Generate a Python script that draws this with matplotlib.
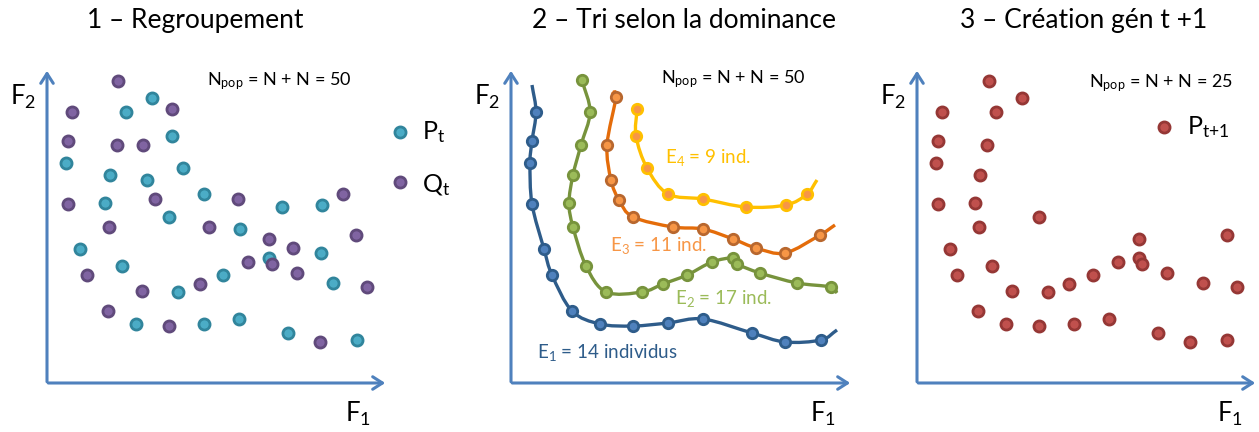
import numpy as np
import matplotlib
matplotlib.use("Agg")
import matplotlib.pyplot as plt
from matplotlib.path import Path
from matplotlib.patches import PathPatch

plt.rcParams['font.family'] = ['Lato', 'DejaVu Sans']
plt.rcParams['mathtext.fontset'] = 'custom'
plt.rcParams['mathtext.rm'] = 'Lato'
plt.rcParams['mathtext.it'] = 'Lato'

# population P_t and offspring Q_t (F1, F2)
pt_f1 = [105, 79, 125, 19, 63, 100, 136, 58, 157, 122, 193, 235, 275, 33, 75, 131, 176, 222, 274, 286, 89, 157, 192, 241, 310]
pt_f2 = [285, 271, 247, 220, 208, 203, 215, 180, 189, 166, 154, 176, 178, 134, 117, 91, 108, 125, 130, 100, 59, 59, 64, 50, 43]
qt_f1 = [71, 25, 125, 21, 70, 96, 21, 108, 62, 162, 191, 296, 222, 246, 201, 225, 250, 309, 320, 40, 95, 153, 61, 122, 273]
qt_f2 = [302, 271, 274, 242, 238, 238, 179, 184, 156, 156, 184, 189, 144, 135, 121, 119, 110, 148, 96, 108, 92, 99, 72, 57, 41]

# fronts (points, then line ends)
e1_f1 = [25, 21, 19, 21, 33, 41, 61, 89, 122, 157, 192, 241, 274, 310]
e1_f2 = [271, 242, 220, 179, 134, 108, 72, 59, 57, 60, 64, 50, 41, 43]
e2_f1 = [71, 79, 70, 62, 58, 62, 75, 95, 131, 152, 176, 201, 222, 226, 249, 286, 320]
e2_f2 = [303, 271, 238, 208, 180, 156, 117, 91, 91, 99, 108, 121, 125, 119, 110, 100, 96]
e3_f1 = [105, 96, 100, 108, 122, 162, 192, 222, 245, 274, 309]
e3_f2 = [286, 238, 203, 183, 166, 156, 154, 144, 135, 130, 148]
e4_f1 = [126, 125, 136, 157, 192, 235, 275, 296]
e4_f2 = [274, 247, 215, 189, 184, 176, 178, 189]
front_start = [(21, 298), None, (101, 291), None]
front_end = [(326, 53), (326, 90), (324, 158), (306, 203)]

# generation t+1
pn_f1 = [72, 105, 25, 79, 21, 70, 19, 63, 21, 58, 122, 62, 33, 40, 75, 95, 131, 152, 176, 201,
         222, 222, 225, 250, 286, 320, 310, 61, 89, 122, 157, 192, 241, 273, 310]
pn_f2 = [302, 285, 271, 271, 242, 238, 220, 208, 179, 180, 166, 156, 134, 108, 117, 92, 91, 99, 108, 121,
         144, 125, 119, 110, 100, 96, 148, 72, 59, 57, 59, 64, 50, 41, 43]

titles = ["1 – Regroupement", "2 – Tri selon la dominance", "3 – Création gén t +1"]

W, H = 1259, 432
fig = plt.figure(figsize=(W / 100, H / 100), dpi=100)

axis_col = "#4F81BD"


def make_ax(x0, y0, w, h):
    ax = fig.add_axes([x0 / W, (H - y0) / H, w / W, h / H])
    ax.set_xlim(0, w)
    ax.set_ylim(0, h)
    ax.axis("off")
    ax.annotate("", xy=(w, 0), xytext=(-1.5, 0),
                arrowprops=dict(arrowstyle="->,head_length=0.7,head_width=0.45", color=axis_col, lw=2.2))
    ax.annotate("", xy=(0, h), xytext=(0, -1.5),
                arrowprops=dict(arrowstyle="->,head_length=0.7,head_width=0.45", color=axis_col, lw=2.2))
    return ax


def smooth(ax, xs, ys, color, start=None, end=None):
    pts = list(zip(xs, ys))
    if start:
        pts = [start] + pts
    if end:
        pts = pts + [end]
    pts = np.array(pts, float)
    ext = np.vstack([2 * pts[0] - pts[1], pts, 2 * pts[-1] - pts[-2]])
    verts = [pts[0]]
    codes = [Path.MOVETO]
    for i in range(1, len(ext) - 2):
        p0, p1, p2, p3 = ext[i - 1], ext[i], ext[i + 1], ext[i + 2]
        verts += [p1 + (p2 - p0) / 6, p2 - (p3 - p1) / 6, p2]
        codes += [Path.CURVE4] * 3
    ax.add_patch(PathPatch(Path(verts, codes), fill=False, ec=color, lw=2.4,
                           capstyle="butt", clip_on=False))


def dots(ax, xs, ys, face, edge, ms=8):
    ax.plot(xs, ys, "o", ms=ms, mfc=face, mec=edge, mew=2.0, ls="none", clip_on=False, zorder=5)


# panel 1
ax1 = make_ax(47, 383, 341, 315)
dots(ax1, pt_f1, pt_f2, "#4BACC6", "#31859C")
dots(ax1, qt_f1, qt_f2, "#8064A2", "#604A7B")
dots(ax1, [353], [251], "#4BACC6", "#31859C")
dots(ax1, [353], [201], "#8064A2", "#604A7B")
ax1.text(375, 251, "P$_{\\mathrm{t}}$", fontsize=18, va="center", ha="left")
ax1.text(375, 198, "Q$_{\\mathrm{t}}$", fontsize=18, va="center", ha="left")
ax1.text(160, 298, "N$_{\\mathrm{pop}}$ = N + N = 50", fontsize=13, va="baseline")

# panel 2
ax2 = make_ax(511, 383, 342, 315)
fronts = [(e1_f1, e1_f2, "#2E5C8A", "#4F81BD", "#2E5C8A"),
          (e2_f1, e2_f2, "#77933C", "#9BBB59", "#77933C"),
          (e3_f1, e3_f2, "#E46C0A", "#F79646", "#B8672E"),
          (e4_f1, e4_f2, "#FFC000", "#F79646", "#FFC000")]
for k, (fx, fy, lc, fc, ec) in enumerate(fronts):
    smooth(ax2, fx, fy, lc, front_start[k], front_end[k])
    dots(ax2, fx, fy, fc, ec, ms=7.5)
ax2.text(154, 220, "E$_{4}$ = 9 ind.", fontsize=13.5, color="#FFC000", va="baseline")
ax2.text(99, 132, "E$_{3}$ = 11 ind.", fontsize=13.5, color="#F79646", va="baseline")
ax2.text(164, 79, "E$_{2}$ = 17 ind.", fontsize=13.5, color="#9BBB59", va="baseline")
ax2.text(26, 25, "E$_{1}$ = 14 individus", fontsize=13.5, color="#2E5C8A", va="baseline")
ax2.text(150, 300, "N$_{\\mathrm{pop}}$ = N + N = 50", fontsize=13, va="baseline")

# panel 3
ax3 = make_ax(917, 383, 341, 315)
dots(ax3, pn_f1, pn_f2, "#C0504D", "#953735")
dots(ax3, [247], [256], "#C0504D", "#953735")
ax3.text(270, 256, "P$_{\\mathrm{t{+}1}}$", fontsize=18, va="center", ha="left")
ax3.text(172, 296, "N$_{\\mathrm{pop}}$ = N + N = 25", fontsize=13, va="baseline")

title_x = [195, 684, 1084]
for ax, t, ox, tx in zip([ax1, ax2, ax3], titles, [47, 511, 917], title_x):
    ax.text(tx - ox, 383 - 28, t, fontsize=19, ha="center", va="baseline")
    ax.text(-37, 383 - 105, "F$_{2}$", fontsize=18.5, ha="left", va="baseline")
    ax.text({47: 298, 511: 299, 917: 300}[ox], 383 - 422, "F$_{1}$", fontsize=18.5, ha="left", va="baseline")

fig.savefig("out.png", dpi=100)
